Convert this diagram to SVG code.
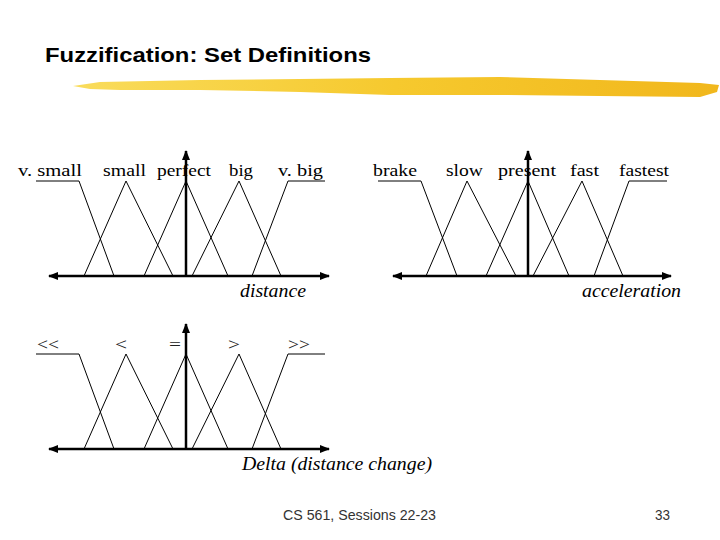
<svg xmlns="http://www.w3.org/2000/svg" width="720" height="540" viewBox="0 0 720 540">
<defs>
<linearGradient id="brush" x1="0" y1="0" x2="1" y2="0">
<stop offset="0" stop-color="#F9DC5C"/>
<stop offset="0.5" stop-color="#F6C92E"/>
<stop offset="1" stop-color="#F1B71C"/>
</linearGradient>
<marker id="arr" viewBox="0 0 10 10" refX="9" refY="5" markerWidth="4" markerHeight="4" orient="auto-start-reverse" markerUnits="strokeWidth">
<path d="M0,1 L10,5 L0,9 Z" fill="#000"/>
</marker>
</defs>
<style>
.lbl{font-family:"Liberation Serif","Times New Roman",serif;font-size:17px;fill:#000}
.sym{font-family:"Liberation Serif","Times New Roman",serif;font-size:17px;fill:#222}
.ax{font-family:"Liberation Serif","Times New Roman",serif;font-size:18px;font-style:italic;fill:#000}
.mf{fill:none;stroke:#000;stroke-width:1}
.axis{fill:none;stroke:#000;stroke-width:2.5;marker-start:url(#arr);marker-end:url(#arr)}
.vaxis{fill:none;stroke:#000;stroke-width:2.5;marker-end:url(#arr)}
.foot{font-family:"Liberation Sans",Arial,sans-serif;font-size:14px;fill:#333}
</style>
<rect width="720" height="540" fill="#fff"/>
<g id="title">
<text x="45" y="62" font-family="Liberation Sans, Arial, sans-serif" font-weight="bold" font-size="21" textLength="326" lengthAdjust="spacingAndGlyphs">Fuzzification: Set Definitions</text>
<path d="M73,86 L100,82 L200,80 L300,79 L390,78 L500,77 L600,80 L700,83 L719,85 L717,92 L700,97 L600,96 L500,95 L390,95 L300,92 L200,90 L120,90 L90,89 Z" fill="url(#brush)"/>
</g>

<g id="connectors">
<line class="axis" x1="49" y1="276" x2="329" y2="276"/>
<line class="vaxis" x1="186" y1="276" x2="186" y2="151"/>
<line class="axis" x1="393" y1="276" x2="671" y2="276"/>
<line class="vaxis" x1="528" y1="276" x2="528" y2="151"/>
<line class="axis" x1="49" y1="449" x2="329" y2="449"/>
<line class="vaxis" x1="186" y1="449" x2="186" y2="324"/>
</g>

<g id="distance-chart">
<g id="d-vsmall"><polyline class="mf" points="36,181 79,181 114,276"/><text class="lbl" x="18" y="176" textLength="64" lengthAdjust="spacingAndGlyphs">v. small</text></g>
<g id="d-small"><polyline class="mf" points="84,276 126,181 173,276"/><text class="lbl" x="103" y="176" textLength="43" lengthAdjust="spacingAndGlyphs">small</text></g>
<g id="d-perfect"><polyline class="mf" points="144,276 186,181 228,276"/><text class="lbl" x="157" y="176" textLength="54" lengthAdjust="spacingAndGlyphs">perfect</text></g>
<g id="d-big"><polyline class="mf" points="192,276 239,181 281,276"/><text class="lbl" x="229" y="176" textLength="24" lengthAdjust="spacingAndGlyphs">big</text></g>
<g id="d-vbig"><polyline class="mf" points="252,276 288,181 325,181"/><text class="lbl" x="278" y="176" textLength="45" lengthAdjust="spacingAndGlyphs">v. big</text></g>
<text class="ax" x="240" y="297" textLength="66" lengthAdjust="spacingAndGlyphs">distance</text>
</g>

<g id="acceleration-chart">
<g id="a-brake"><polyline class="mf" points="378,181 421,181 457,276"/><text class="lbl" x="373" y="176" textLength="44" lengthAdjust="spacingAndGlyphs">brake</text></g>
<g id="a-slow"><polyline class="mf" points="426,276 467,181 516,276"/><text class="lbl" x="446" y="176" textLength="37" lengthAdjust="spacingAndGlyphs">slow</text></g>
<g id="a-present"><polyline class="mf" points="486,276 528,181 569,276"/><text class="lbl" x="498" y="176" textLength="58" lengthAdjust="spacingAndGlyphs">present</text></g>
<g id="a-fast"><polyline class="mf" points="533,276 582,181 623,276"/><text class="lbl" x="570" y="176" textLength="29" lengthAdjust="spacingAndGlyphs">fast</text></g>
<g id="a-fastest"><polyline class="mf" points="594,276 629,181 667,181"/><text class="lbl" x="619" y="176" textLength="50" lengthAdjust="spacingAndGlyphs">fastest</text></g>
<text class="ax" x="582" y="297" textLength="99" lengthAdjust="spacingAndGlyphs">acceleration</text>
</g>

<g id="delta-chart">
<g id="dl-muchless"><polyline class="mf" points="36,354 79,354 114,449"/><text class="sym" x="37" y="350" textLength="22" lengthAdjust="spacingAndGlyphs">&lt;&lt;</text></g>
<g id="dl-less"><polyline class="mf" points="84,449 126,354 173,449"/><text class="sym" x="115" y="350" textLength="12" lengthAdjust="spacingAndGlyphs">&lt;</text></g>
<g id="dl-equal"><polyline class="mf" points="144,449 186,354 228,449"/><text class="sym" x="169" y="350" textLength="12" lengthAdjust="spacingAndGlyphs">=</text></g>
<g id="dl-greater"><polyline class="mf" points="192,449 239,354 281,449"/><text class="sym" x="228" y="350" textLength="12" lengthAdjust="spacingAndGlyphs">&gt;</text></g>
<g id="dl-muchgreater"><polyline class="mf" points="252,449 288,354 325,354"/><text class="sym" x="288" y="350" textLength="22" lengthAdjust="spacingAndGlyphs">&gt;&gt;</text></g>
<text class="ax" x="242" y="470" textLength="190" lengthAdjust="spacingAndGlyphs">Delta (distance change)</text>
</g>

<g id="footer">
<text class="foot" x="283" y="520" textLength="153" lengthAdjust="spacingAndGlyphs">CS 561,  Sessions 22-23</text>
<text class="foot" x="655" y="520" textLength="15" lengthAdjust="spacingAndGlyphs">33</text>
</g>
</svg>
